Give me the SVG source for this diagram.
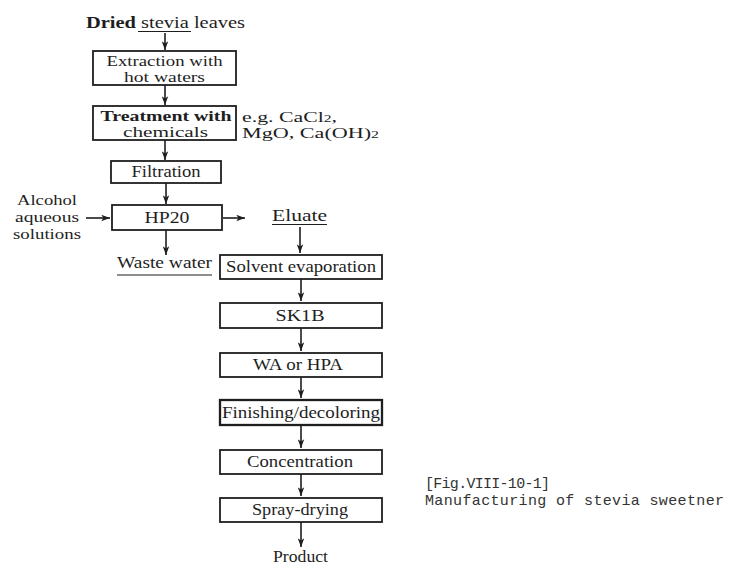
<svg xmlns="http://www.w3.org/2000/svg" width="730" height="568" viewBox="0 0 730 568">
<style>
text{font-family:"Liberation Serif","DejaVu Serif",serif;font-size:16px;fill:#1e1e1e}
.c{text-anchor:middle}
.box rect{fill:none;stroke:#1e1e1e;stroke-width:1.8}
.cap{font-family:"Liberation Mono","DejaVu Sans Mono",monospace;font-size:15px;fill:#333}
.sm{font-size:14.5px}
.two{font-size:14px}
#connectors line{stroke:#1e1e1e;stroke-width:1.6;marker-end:url(#ah)}
.ul{stroke:#1e1e1e;stroke-width:1.2}
</style>
<defs>
<marker id="ah" viewBox="0 0 10 8" markerUnits="userSpaceOnUse" markerWidth="9" markerHeight="7" refX="10" refY="4" orient="auto">
<path d="M0,0.3 L10,4 L0,7.7 L2.5,4 z" fill="#1e1e1e"/>
</marker>
</defs>
<rect width="730" height="568" fill="#fff"/>

<g id="title">
<text x="86" y="28" textLength="159" lengthAdjust="spacingAndGlyphs" style="font-size:17px"><tspan font-weight="bold">Dried</tspan> stevia leaves</text>
<line class="ul" x1="138" y1="31.5" x2="191" y2="31.5"/>
</g>

<g id="extraction" class="box">
<rect x="93" y="51" width="143" height="34"/>
<text class="c two" x="164.5" y="66" textLength="116" lengthAdjust="spacingAndGlyphs">Extraction with</text>
<text class="c two" x="164.5" y="82" textLength="81" lengthAdjust="spacingAndGlyphs">hot waters</text>
</g>

<g id="treatment" class="box">
<rect x="93" y="106" width="143" height="34"/>
<text class="c two" x="166" y="121" textLength="131" lengthAdjust="spacingAndGlyphs" font-weight="bold">Treatment with</text>
<text class="c two" x="165.5" y="137" textLength="85" lengthAdjust="spacingAndGlyphs">chemicals</text>
</g>

<g id="chemicals-note">
<text class="two" x="242" y="122" textLength="95" lengthAdjust="spacingAndGlyphs">e.g. CaCl<tspan font-size="10">2</tspan>,</text>
<text class="two" x="242" y="138" textLength="137" lengthAdjust="spacingAndGlyphs">MgO, Ca(OH)<tspan font-size="10">2</tspan></text>
</g>

<g id="filtration" class="box">
<rect x="111" y="161" width="110" height="22"/>
<text class="c" x="166" y="177" textLength="69" lengthAdjust="spacingAndGlyphs">Filtration</text>
</g>

<g id="alcohol">
<text class="c sm" x="47" y="205" textLength="60" lengthAdjust="spacingAndGlyphs">Alcohol</text>
<text class="c sm" x="47" y="222" textLength="64" lengthAdjust="spacingAndGlyphs">aqueous</text>
<text class="c sm" x="47" y="239" textLength="68" lengthAdjust="spacingAndGlyphs">solutions</text>
</g>

<g id="hp20" class="box">
<rect x="112" y="205" width="110" height="25"/>
<text class="c" x="167" y="223" textLength="45" lengthAdjust="spacingAndGlyphs">HP20</text>
</g>

<g id="eluate">
<text x="272" y="221" textLength="55" lengthAdjust="spacingAndGlyphs">Eluate</text>
<line class="ul" x1="272" y1="224.5" x2="327" y2="224.5"/>
</g>

<g id="waste">
<text x="117" y="268" textLength="95" lengthAdjust="spacingAndGlyphs">Waste water</text>
<line class="ul" x1="117" y1="275" x2="212" y2="275"/>
</g>

<g id="solvent" class="box">
<rect x="220" y="255" width="162" height="24"/>
<text class="c" x="301" y="272" textLength="150" lengthAdjust="spacingAndGlyphs">Solvent evaporation</text>
</g>

<g id="sk1b" class="box">
<rect x="220" y="303" width="162" height="25"/>
<text class="c" x="300" y="321" textLength="49" lengthAdjust="spacingAndGlyphs">SK1B</text>
</g>

<g id="wa" class="box">
<rect x="220" y="353" width="162" height="24"/>
<text class="c" x="298" y="370" textLength="90" lengthAdjust="spacingAndGlyphs">WA or HPA</text>
</g>

<g id="finishing" class="box">
<rect x="220" y="400" width="162" height="25" style="stroke-width:2.3"/>
<text class="c" x="301" y="418" textLength="158" lengthAdjust="spacingAndGlyphs">Finishing/decoloring</text>
</g>

<g id="concentration" class="box">
<rect x="220" y="450" width="162" height="24"/>
<text class="c" x="300" y="467" textLength="106" lengthAdjust="spacingAndGlyphs">Concentration</text>
</g>

<g id="spray" class="box">
<rect x="220" y="498" width="162" height="24"/>
<text class="c" x="300" y="515" textLength="96" lengthAdjust="spacingAndGlyphs">Spray-drying</text>
</g>

<g id="product">
<text class="c" x="300.5" y="562" textLength="55" lengthAdjust="spacingAndGlyphs">Product</text>
</g>

<g id="caption">
<text class="cap" x="425" y="488" textLength="125">[Fig.VIII-10-1]</text>
<text class="cap" x="425" y="505" textLength="299">Manufacturing of stevia sweetner</text>
</g>

<g id="connectors">
<line x1="165" y1="33" x2="165" y2="50"/>
<line x1="165" y1="85" x2="165" y2="105"/>
<line x1="165" y1="140" x2="165" y2="160"/>
<line x1="166" y1="183" x2="166" y2="204"/>
<line x1="86" y1="218" x2="110" y2="218"/>
<line x1="223" y1="218" x2="245" y2="218"/>
<line x1="166" y1="230" x2="166" y2="255"/>
<line x1="300" y1="227" x2="300" y2="253"/>
<line x1="301" y1="279" x2="301" y2="301"/>
<line x1="301" y1="328" x2="301" y2="351"/>
<line x1="301" y1="377" x2="301" y2="398"/>
<line x1="301" y1="425" x2="301" y2="448"/>
<line x1="301" y1="474" x2="301" y2="496"/>
<line x1="301" y1="522" x2="301" y2="547"/>
</g>
</svg>
